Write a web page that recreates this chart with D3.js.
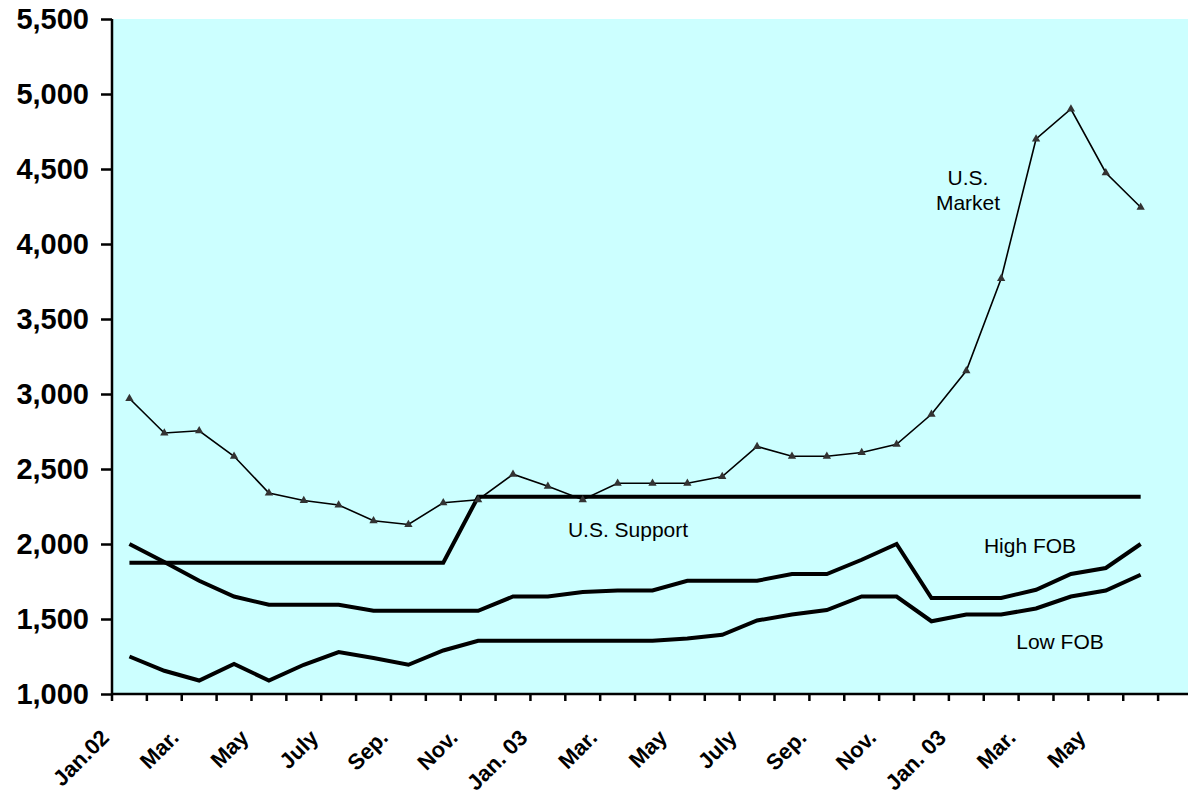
<!DOCTYPE html>
<html>
<head>
<meta charset="utf-8">
<script src="https://cdn.jsdelivr.net/npm/d3@7"></script>
<style>
    body { margin: 0; background: #ffffff; }
    svg { display: block; }
</style>
</head>
<body>
<div id="plot"></div>
<script>
// Monthly categories, Jan 2002 - Jul 2004 (last slot is empty in the source chart).
var months = d3.range(31);
var month_labels = ["Jan.02", "", "Mar.", "", "May", "", "July", "", "Sep.", "", "Nov.", "",
                    "Jan. 03", "", "Mar.", "", "May", "", "July", "", "Sep.", "", "Nov.", "",
                    "Jan. 03", "", "Mar.", "", "May", "", ""];

var us_market = [2970, 2740, 2755, 2585, 2340, 2290, 2260, 2155, 2130, 2275,
                 2295, 2465, 2385, 2295, 2405, 2405, 2405, 2450, 2650, 2585,
                 2585, 2610, 2665, 2865, 3155, 3770, 4700, 4900, 4475, 4245];
var us_support = [1875, 1875, 1875, 1875, 1875, 1875, 1875, 1875, 1875, 1875,
                  2315, 2315, 2315, 2315, 2315, 2315, 2315, 2315, 2315, 2315,
                  2315, 2315, 2315, 2315, 2315, 2315, 2315, 2315, 2315, 2315];
var high_fob = [2000, 1880, 1755, 1650, 1595, 1595, 1595, 1555, 1555, 1555,
                1555, 1650, 1650, 1680, 1690, 1690, 1755, 1755, 1755, 1800,
                1800, 1895, 2000, 1640, 1640, 1640, 1695, 1800, 1840, 2000];
var low_fob = [1250, 1155, 1090, 1200, 1090, 1195, 1280, 1240, 1195, 1290,
               1355, 1355, 1355, 1355, 1355, 1355, 1370, 1395, 1490, 1530,
               1560, 1650, 1650, 1485, 1530, 1530, 1570, 1650, 1690, 1795];

var y_ticks = [1000, 1500, 2000, 2500, 3000, 3500, 4000, 4500, 5000, 5500];

var width = 1188, height = 798;
var left = 112, top_ = 19, bottom = 694, band = 34.87;

var svg = d3.select("div#plot").append("svg")
    .attr("width", width)
    .attr("height", height)
    .attr("viewBox", "0 0 " + width + " " + height);

var x_scale = d3.scaleBand()
    .domain(months)
    .range([left, left + band * months.length])
    .padding(0);

var y_scale = d3.scaleLinear()
    .domain([1000, 5500])
    .range([bottom, top_]);

var cx = i => x_scale(i) + x_scale.bandwidth() / 2;

// Plot area background.
svg.append("rect")
    .attr("x", left)
    .attr("y", top_)
    .attr("width", x_scale.range()[1] - left)
    .attr("height", bottom - top_)
    .style("fill", "#ccffff");

// Lines.
var line = d3.line()
    .x((d, i) => cx(i))
    .y(d => y_scale(d));

var g_lines = svg.append("g").attr("id", "lines");

[us_support, high_fob, low_fob].forEach(function(s) {
    g_lines.append("path")
        .datum(s)
        .attr("d", line)
        .style("fill", "none")
        .style("stroke", "black")
        .style("stroke-width", 4)
        .style("stroke-linejoin", "miter");
});

g_lines.append("path")
    .datum(us_market)
    .attr("d", line)
    .style("fill", "none")
    .style("stroke", "black")
    .style("stroke-width", 1.6);

g_lines.selectAll("path.marker")
    .data(us_market)
    .join("path")
        .attr("class", "marker")
        .attr("transform", (d, i) => "translate(" + cx(i) + "," + y_scale(d) + ")")
        .attr("d", d3.symbol().type(d3.symbolTriangle).size(30))
        .style("fill", "#333333");

// Y axis.
var g_y_axis = svg.append("g")
    .attr("id", "y_axis")
    .attr("transform", "translate(" + left + ", 0)")
    .call(d3.axisLeft(y_scale).tickValues(y_ticks).tickSize(11).tickPadding(12)
        .tickFormat(d3.format(",")));

g_y_axis.select(".domain").style("stroke-width", 2.5).attr("d", "M0," + top_ + "V" + bottom);
g_y_axis.selectAll(".tick line").style("stroke-width", 2.5);
g_y_axis.selectAll("text")
    .style("font-family", "'Liberation Sans', Arial, sans-serif")
    .style("font-weight", "bold")
    .style("font-size", "29px")
    .style("fill", "black");

// X axis: ticks sit between categories.
var x_edges = d3.range(months.length + 1).map(k => left + k * band);
var g_x_axis = svg.append("g").attr("id", "x_axis");

g_x_axis.append("line")
    .attr("x1", left).attr("x2", x_scale.range()[1])
    .attr("y1", bottom).attr("y2", bottom)
    .style("stroke", "black")
    .style("stroke-width", 2.5);

g_x_axis.selectAll("line.tick")
    .data(x_edges)
    .join("line")
        .attr("class", "tick")
        .attr("x1", d => d).attr("x2", d => d)
        .attr("y1", bottom).attr("y2", bottom + 7)
        .style("stroke", "black")
        .style("stroke-width", 2.5);

g_x_axis.selectAll("text")
    .data(months.filter(i => month_labels[i] !== ""))
    .join("text")
        .attr("transform", d => "translate(" + (cx(d) - 19) + "," + 739 + ") rotate(-45)")
        .attr("text-anchor", "end")
        .style("font-family", "'Liberation Sans', Arial, sans-serif")
        .style("font-weight", "bold")
        .style("font-size", "22px")
        .text(d => month_labels[d]);

// Series annotations.
var notes = [
    {text: "U.S.", x: 968, y: 185},
    {text: "Market", x: 968, y: 210},
    {text: "U.S. Support", x: 628, y: 537},
    {text: "High FOB", x: 1030, y: 553},
    {text: "Low FOB", x: 1060, y: 649}
];

svg.append("g").attr("id", "notes")
    .selectAll("text")
    .data(notes)
    .join("text")
        .attr("x", d => d.x)
        .attr("y", d => d.y)
        .attr("text-anchor", "middle")
        .style("font-family", "'Liberation Sans', Arial, sans-serif")
        .style("font-size", "21px")
        .text(d => d.text);
</script>
</body>
</html>
